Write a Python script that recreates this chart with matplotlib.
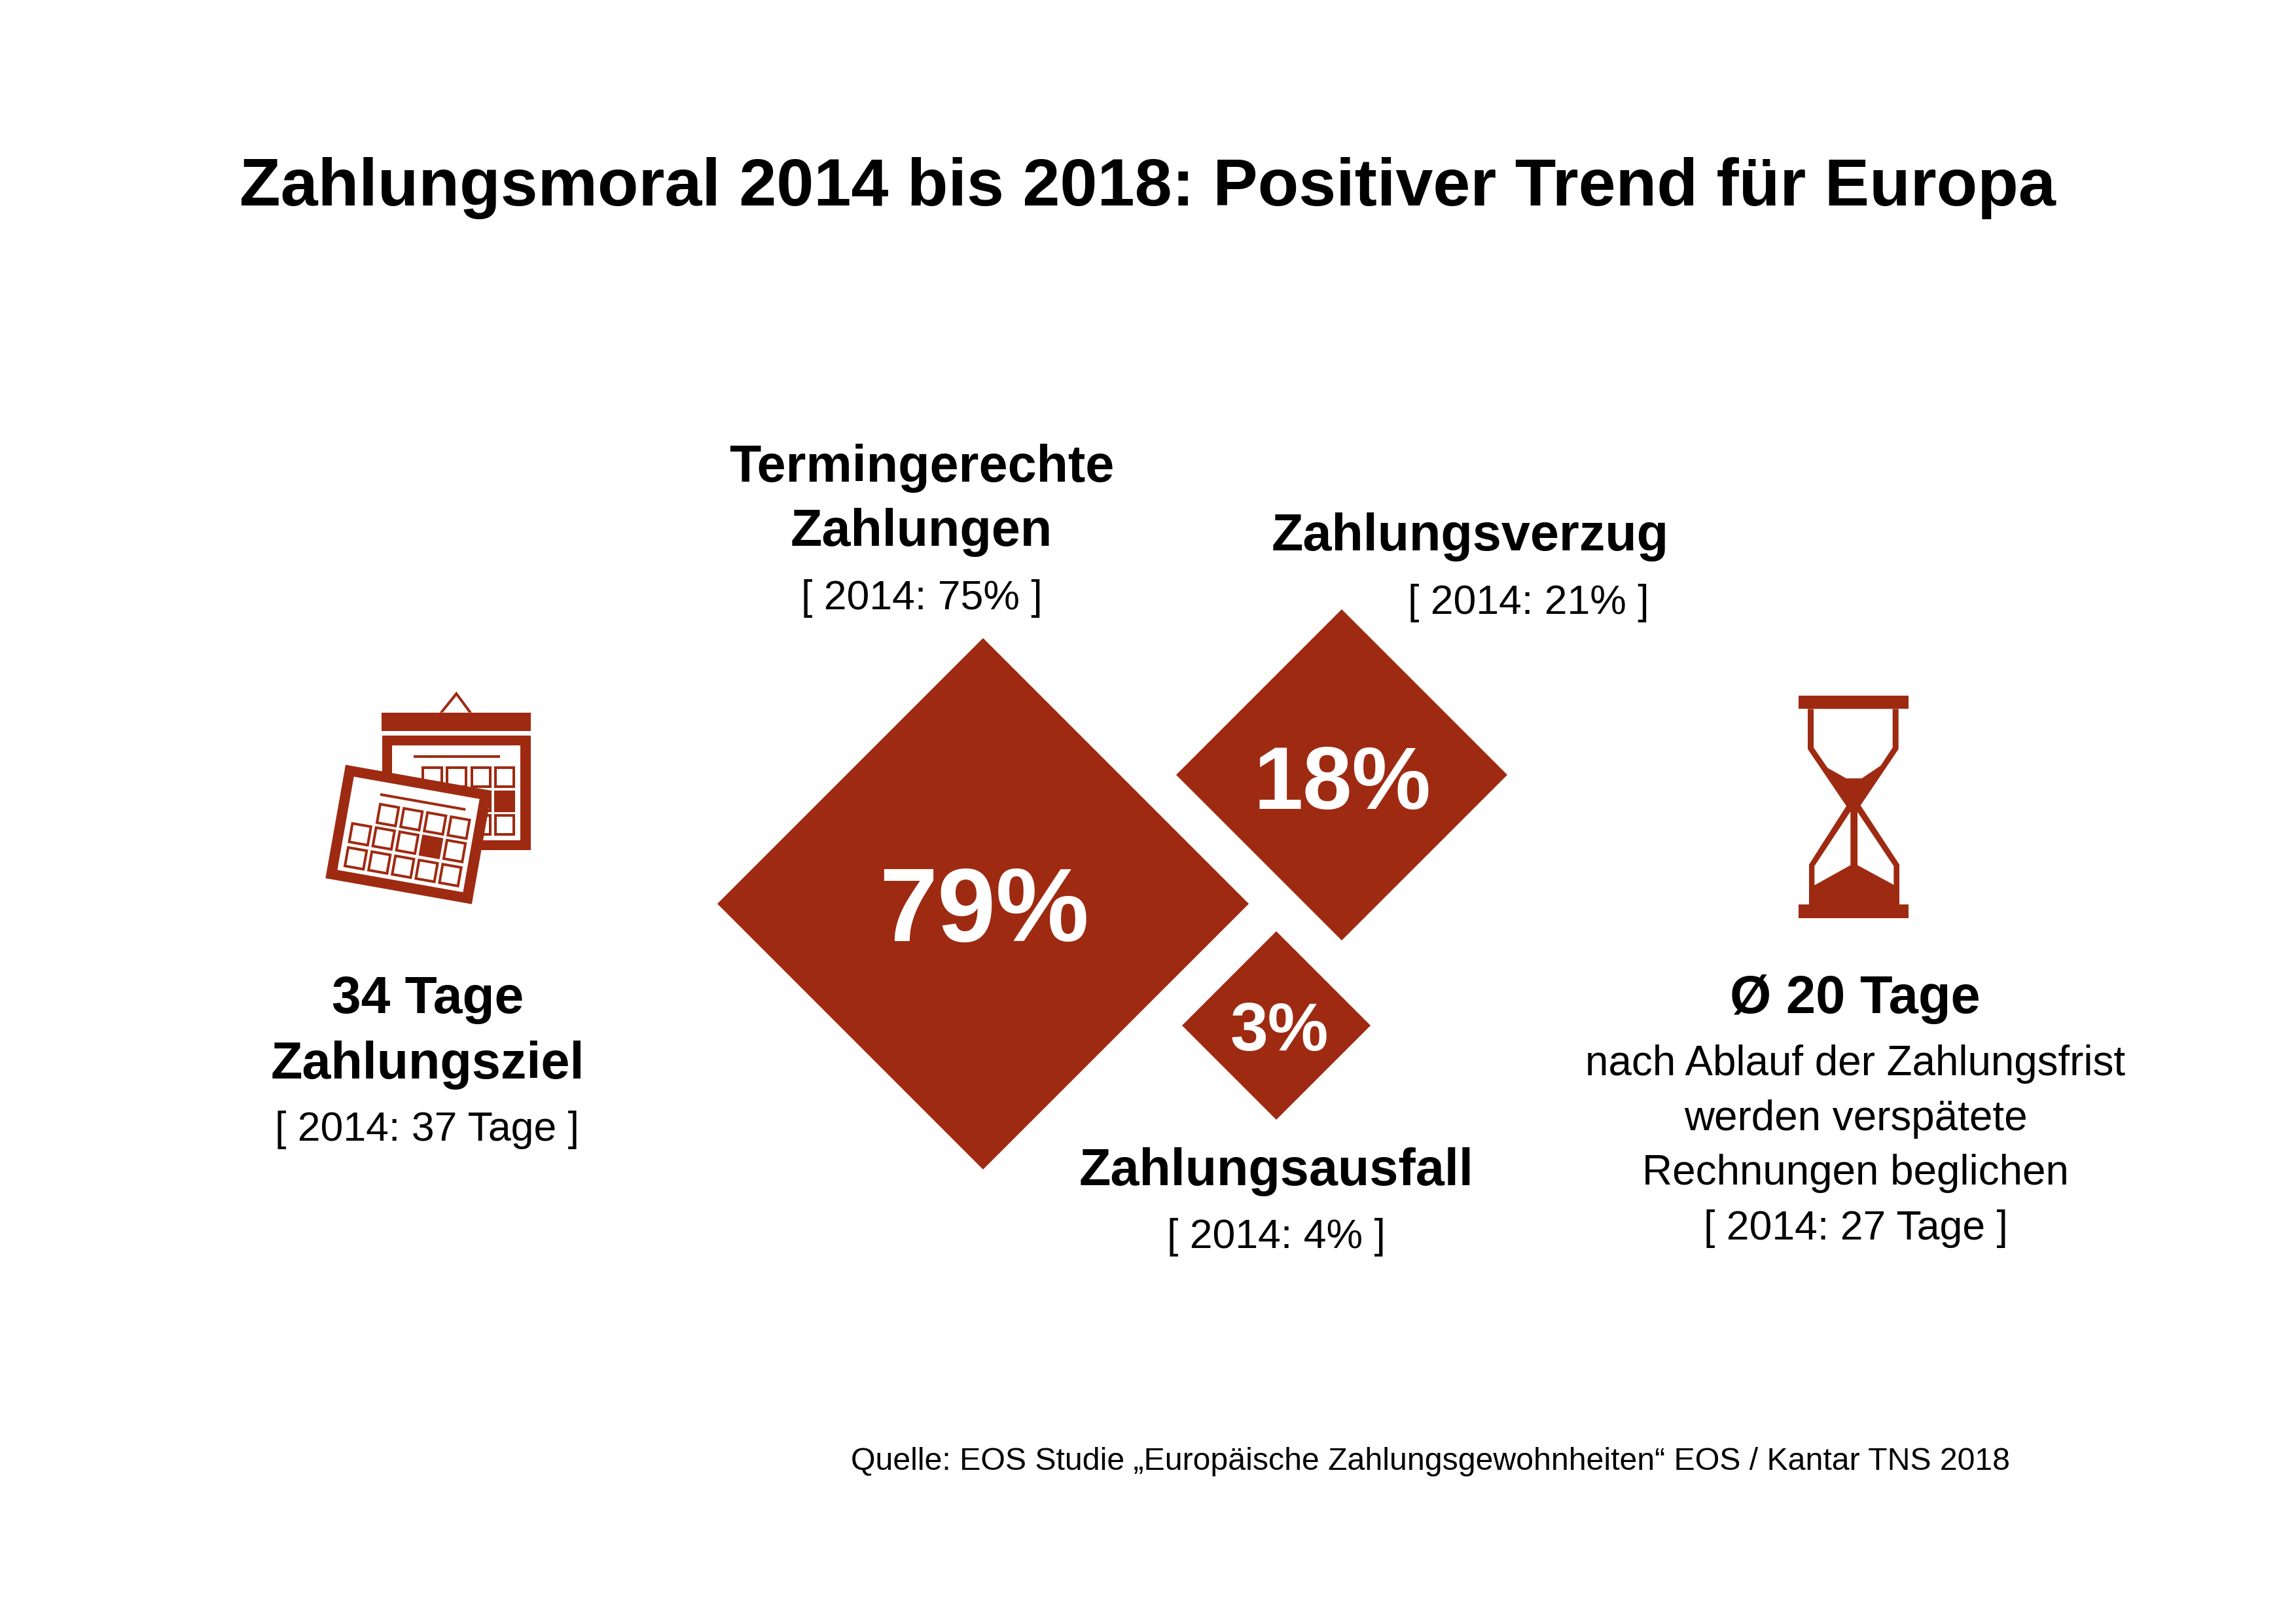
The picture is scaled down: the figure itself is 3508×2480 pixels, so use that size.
import math

import matplotlib
matplotlib.use("Agg")
import matplotlib.pyplot as plt
from matplotlib.patches import Polygon, Rectangle

plt.rcParams['font.family'] = ['Liberation Sans', 'DejaVu Sans']

RED = "#9E2A12"

# Donnees
shares = ["79%", "18%", "3%"]
share_x = [1502, 2050, 1950]
share_y = [1381, 1184, 1567]
share_half = [406, 253, 144]
share_text_x = [1504, 2051, 1955]
share_text_y = [1438, 1236, 1605]
share_size = [38.5, 32.5, 25]

# (texte, x, y ligne de base, taille, gras)
labels = [
    ("Termingerechte", 1408, 736, 19, True),
    ("Zahlungen", 1408, 834, 19, True),
    ("[ 2014: 75% ]", 1408, 931, 15, False),
    ("Zahlungsverzug", 2246, 841, 19, True),
    ("[ 2014: 21% ]", 2335, 938, 15, False),
    ("Zahlungsausfall", 1950, 1811, 19, True),
    ("[ 2014: 4% ]", 1950, 1907, 15, False),
    ("34 Tage", 654, 1548, 19.3, True),
    ("Zahlungsziel", 653, 1648, 19, True),
    ("[ 2014: 37 Tage ]", 653, 1743, 15, False),
    ("Ø 20 Tage", 2834, 1548, 19.5, True),
    ("nach Ablauf der Zahlungsfrist", 2835, 1643, 15.3, False),
    ("werden verspätete", 2835, 1727, 15.3, False),
    ("Rechnungen beglichen", 2835, 1810, 15.3, False),
    ("[ 2014: 27 Tage ]", 2835, 1894, 15, False),
]

title = "Zahlungsmoral 2014 bis 2018: Positiver Trend für Europa"
source = "Quelle: EOS Studie „Europäische Zahlungsgewohnheiten“ EOS / Kantar TNS 2018"

fig = plt.figure(figsize=(3508 / 300, 2480 / 300), dpi=300)
ax = fig.add_axes([0, 0, 1, 1])
ax.set_xlim(0, 3508)
ax.set_ylim(2480, 0)
ax.axis('off')


def zoom_pts(pts, ox, oy):
    return [(ox + x / 3, oy + y / 3) for x, y in pts]


def poly(pts, color=RED, z=2):
    ax.add_patch(Polygon(pts, closed=True, facecolor=color, edgecolor='none', zorder=z))


def rect(x0, y0, x1, y1, ox, oy, color=RED, z=2):
    ax.add_patch(Rectangle((ox + x0 / 3, oy + y0 / 3), (x1 - x0) / 3, (y1 - y0) / 3,
                           facecolor=color, edgecolor='none', zorder=z))


# Losanges
for x, y, h in zip(share_x, share_y, share_half):
    poly([(x, y - h), (x + h, y), (x, y + h), (x - h, y)])
for s, x, y, size in zip(shares, share_text_x, share_text_y, share_size):
    ax.text(x, y, s, color='white', fontsize=size, fontweight='bold',
            ha='center', va='baseline', zorder=5)

# Calendrier arriere
cx, cy = 460, 1030
poly(zoom_pts([(635, 176), (712, 80), (783, 176), (768, 176), (712, 100), (650, 176)], cx, cy))
rect(369, 176, 1052, 262, cx, cy)
rect(372, 282, 1052, 808, cx, cy)
rect(418, 328, 1005, 762, cx, cy, 'white')
rect(515, 372, 912, 384, cx, cy)
col_x = [552, 664, 776, 884]
row_y = [424, 534, 643]
for r, ry in enumerate(row_y):
    for c, rx in enumerate(col_x):
        rect(rx, ry, rx + 98, ry + 98, cx, cy)
        if not (r == 1 and c == 3):
            rect(rx + 12, ry + 12, rx + 86, ry + 86, cx, cy, 'white')

# Calendrier avant, incline
a = math.radians(10.05)


def tilt(u, v):
    return (204 + u * math.cos(a) - v * math.sin(a), 416 + u * math.sin(a) + v * math.cos(a))


def tilt_rect(u0, v0, u1, v1, color=RED, z=3):
    poly(zoom_pts([tilt(u0, v0), tilt(u1, v0), tilt(u1, v1), tilt(u0, v1)], cx, cy), color, z)


tilt_rect(0, 0, 681, 528)
tilt_rect(47, 47, 632, 481, 'white')
tilt_rect(180, 100, 577, 112)
for row, v, cols in [(0, 144, [1, 2, 3, 4]), (1, 253, [0, 1, 2, 3, 4]), (2, 365, [0, 1, 2, 3, 4])]:
    for c in cols:
        u = 72 + 110 * c
        tilt_rect(u, v, u + 98, v + 98)
        if not (row == 1 and c == 3):
            tilt_rect(u + 12, v + 12, u + 86, v + 86, 'white')

# Sablier
hx, hy = 2720, 1040
rect(85, 68, 587, 130, hx, hy)
rect(85, 1027, 587, 1089, hx, hy)
poly(zoom_pts([(126, 130), (126, 314), (303, 575), (132, 843), (132, 1027), (546, 1027),
               (546, 843), (368, 572), (542, 314), (542, 130)], hx, hy))
poly(zoom_pts([(153, 130), (153, 307), (217, 400), (302, 448), (374, 448), (460, 390),
               (515, 307), (515, 130)], hx, hy), 'white', 3)
poly(zoom_pts([(322, 600), (322, 846), (157, 938), (157, 850)], hx, hy), 'white', 3)
poly(zoom_pts([(354, 602), (520, 850), (520, 936), (354, 846)], hx, hy), 'white', 3)

# Textes
ax.text(1753, 314, title, fontsize=24.6, fontweight='bold', ha='center', va='baseline', color='black')
ax.text(1300, 2246, source, fontsize=11.58, ha='left', va='baseline', color='black')
for s, x, y, size, bold in labels:
    ax.text(x, y, s, fontsize=size, fontweight='bold' if bold else 'normal',
            ha='center', va='baseline', color='black')

fig.savefig("out.png", dpi=300)
